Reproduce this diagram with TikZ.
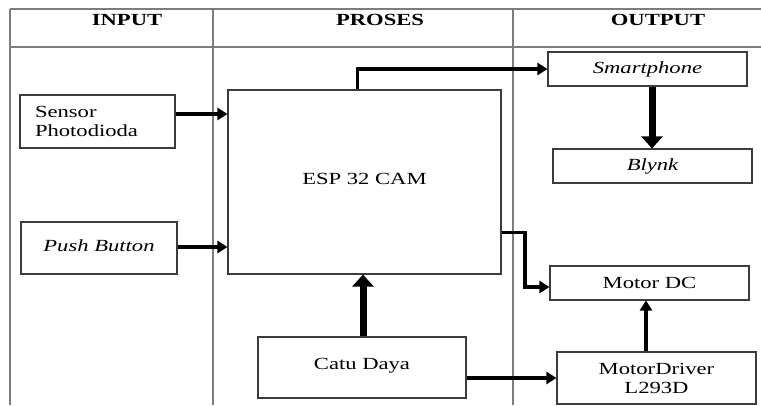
\documentclass[tikz,border=0pt]{standalone}
\usepackage{fontspec}
\setmainfont{Liberation Serif}[FakeStretch=1.33]
\usetikzlibrary{arrows.meta,calc}
\definecolor{gridc}{RGB}{125,125,125}
\definecolor{boxc}{RGB}{60,60,60}
\tikzset{
  gridline/.style={draw=gridc, line width=1.1pt},
  blk/.style={draw=boxc, line width=1.1pt, rectangle, inner sep=0pt, font=\fontsize{17}{19}\selectfont, align=center},
  hdr/.style={font=\fontsize{17}{19}\selectfont\bfseries, anchor=base, inner sep=0pt},
  arr/.style={line width=3.6pt, -{Triangle[length=10pt,width=12pt]}},
  bigarr/.style={line width=7pt, -{Triangle[length=12pt,width=21pt]}},
}
\begin{document}
\begin{tikzpicture}[x=1pt,y=-1pt]
\useasboundingbox (0,0) rectangle (761,405);
% table
\draw[gridline] (10,9) -- (761,9);
\draw[gridline] (10,47) -- (761,47);
\draw[gridline] (10,9) -- (10,405);
\draw[gridline] (213,9) -- (213,405);
\draw[gridline] (513,9) -- (513,405);
\node[hdr] (hin) at (127,25) {INPUT};
\node[hdr] (hpr) at (380,25) {PROSES};
\node[hdr] (hout) at (658,25) {OUTPUT};
% boxes
\node[blk, minimum width=155, minimum height=53, text width=125, inner xsep=15pt, align=left] (sensor) at (97.5,121.5) {Sensor\\Photodioda};
\node[blk, minimum width=156, minimum height=52] (push) at (99,248) {\raisebox{4pt}{\itshape Push Button}};
\node[blk, minimum width=273, minimum height=184] (esp) at (364.5,182) {\raisebox{6pt}{ESP 32 CAM}};
\node[blk, minimum width=199, minimum height=34] (smart) at (647.5,69) {\itshape Smartphone};
\node[blk, minimum width=199, minimum height=34] (blynk) at (652.5,166) {\itshape Blynk};
\node[blk, minimum width=199, minimum height=34] (motor) at (649.5,283) {Motor DC};
\node[blk, minimum width=199, minimum height=52] (driver) at (656.5,378) {MotorDriver\\L293D};
\node[blk, minimum width=208, minimum height=61] (catu) at (362,367.5) {\raisebox{8pt}{Catu Daya}};
% connectors
\draw[arr] (sensor.east |- 0,114) -- (esp.west |- 0,114);
\draw[arr] (push.east |- 0,247) -- (esp.west |- 0,247);
\draw[arr] ($(esp.north west)+(130,0)$) |- (smart.west);
\draw[arr] ($(esp.north east)+(0,143)$) -| (525,270) |- (motor.west |- 0,287);
\draw[bigarr] (smart.south -| 652,0) -- (blynk.north -| 652,0);
\draw[bigarr] (catu.north -| 363,0) -- (esp.south -| 363,0);
\draw[arr] (catu.east |- 0,378) -- (driver.west |- 0,378);
\draw[arr, line width=4pt] (driver.north -| 646,0) -- (motor.south -| 646,0);
\end{tikzpicture}
\end{document}
